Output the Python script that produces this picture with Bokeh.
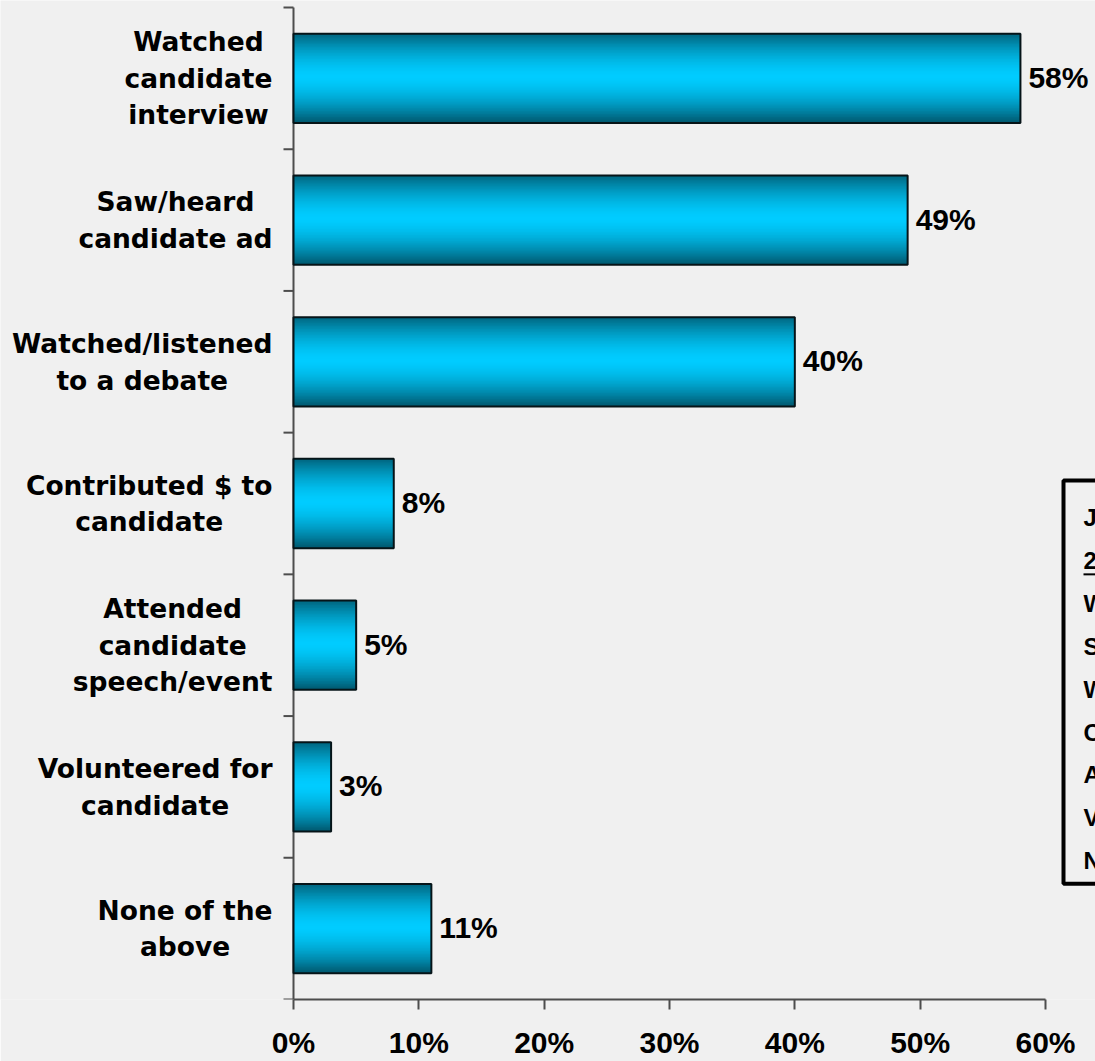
import numpy as np
from bokeh.plotting import figure
from bokeh.models import FixedTicker, Range1d
from bokeh.core.properties import value
from bokeh.embed import file_html
from bokeh.resources import INLINE

# ---- data ----
categories = [
    "Watched\ncandidate\ninterview",
    "Saw/heard\ncandidate ad",
    "Watched/listened\nto a debate",
    "Contributed $ to\ncandidate",
    "Attended\ncandidate\nspeech/event",
    "Volunteered for\ncandidate",
    "None of the\nabove",
]
values = [58, 49, 40, 8, 5, 3, 11]
value_labels = ["58%", "49%", "40%", "8%", "5%", "3%", "11%"]
x_ticks = [0, 10, 20, 30, 40, 50, 60]
x_tick_labels = ["0%", "10%", "20%", "30%", "40%", "50%", "60%"]
legend_lines = ["J", "2", "W", "S", "W", "C", "A", "V", "N"]

# ---- layout ----
W, H = 1095, 1061
ZERO_PX = 293          # pixel column of 0%
PXU = (1045 - 293) / 60.0  # pixels per percent
XMIN = -ZERO_PX / PXU
XMAX = (W - ZERO_PX) / PXU
n = len(categories)
TOP_PX, BOT_PX = 7, 1001   # category boundaries (pixel rows)
PYU = (BOT_PX - TOP_PX) / n
FRAME_B = BOT_PX
YMAX = n + TOP_PX / PYU
ypos = [n - 0.5 - i for i in range(n)]
BAR_H = 0.63
CAT_FS = 26.5

def px_to_y(py):
    return n - (py - TOP_PX) / PYU

def px_to_x(px):
    return (px - ZERO_PX) / PXU

# text width measurement for centring multi-line category blocks
_w = {' ': .348, '$': .696, '/': .365, 'a': .675, 'b': .716, 'c': .593, 'd': .716,
      'e': .678, 'f': .435, 'h': .712, 'i': .343, 'l': .343, 'n': .712, 'o': .687,
      'p': .716, 'r': .493, 's': .595, 't': .478, 'u': .712, 'v': .652, 'w': .924,
      'A': .774, 'C': .734, 'N': .837, 'S': .720, 'V': .774, 'W': 1.030}
try:
    from PIL import ImageFont
    _font = ImageFont.truetype("DejaVuSans-Bold.ttf", 200)
    def text_w(s):
        return _font.getlength(s) / 200 * CAT_FS
except Exception:
    def text_w(s):
        return sum(_w.get(ch, .7) for ch in s) * CAT_FS

p = figure(width=W, height=H, x_range=Range1d(XMIN, XMAX), y_range=Range1d(0, YMAX),
           output_backend="svg", toolbar_location=None, y_axis_location=None,
           min_border_left=0, min_border_right=0, min_border_top=0,
           min_border_bottom=H - FRAME_B,
           background_fill_color="#f0f0f0", border_fill_color="#f0f0f0",
           outline_line_color=None)
p.grid.visible = False

AX = "#4d4d4d"
# x axis
xa = p.xaxis[0]
xa.ticker = FixedTicker(ticks=x_ticks)
xa.major_label_overrides = {t: l for t, l in zip(x_ticks, x_tick_labels)}
xa.bounds = (0, 60)
xa.axis_line_color = AX
xa.axis_line_width = 2
xa.major_tick_line_color = AX
xa.major_tick_line_width = 2
xa.major_tick_out = 10
xa.major_tick_in = 0
xa.minor_tick_line_color = None
xa.major_label_standoff = 16
xa.major_label_text_font = "Liberation Sans"
xa.major_label_text_font_style = "bold"
xa.major_label_text_font_size = "30px"
xa.major_label_text_color = "black"

# category axis drawn by hand: line at 0%, boundary ticks, centred label blocks
TICK = 10 / PXU
p.segment(x0=[0], x1=[0], y0=[0], y1=[n], line_color=AX, line_width=2)
bounds = list(range(n + 1))
p.segment(x0=[-TICK] * len(bounds), x1=[0] * len(bounds), y0=bounds, y1=bounds,
          line_color=AX, line_width=2)

RIGHT_EDGE = 272
cat_x = [px_to_x(RIGHT_EDGE - max(text_w(s) for s in c.split("\n")) / 2)
         for c in categories]
p.text(x=cat_x, y=ypos, text=categories, text_align="center",
       text_baseline="middle", text_font=value("DejaVu Sans"),
       text_font_style="bold", text_font_size=f"{CAT_FS}px",
       text_line_height=1.18, text_color="black")

# ---- gradient bars (horizontal stripes) ----
dark = np.array([0, 86, 108])
bright = np.array([0, 204, 255])
NS = 60
L, R, B, T, C = [], [], [], [], []
for v, yc in zip(values, ypos):
    y0 = yc - BAR_H / 2
    dh = BAR_H / NS
    for k in range(NS):
        t = 1 - (k + 0.5) / NS  # 0 at top
        d = abs(t - 0.48) / 0.52
        f = max(0.0, 1 - d ** 1.6)
        col = dark + (bright - dark) * f
        L.append(0); R.append(v)
        B.append(y0 + k * dh); T.append(min(y0 + (k + 2) * dh, yc + BAR_H / 2))
        C.append("#%02x%02x%02x" % tuple(int(round(c)) for c in col))
p.quad(left=L, right=R, bottom=B, top=T, fill_color=C, line_color=None)
p.quad(left=[0] * n, right=values,
       bottom=[y - BAR_H / 2 for y in ypos], top=[y + BAR_H / 2 for y in ypos],
       fill_color=None, line_color="#061418", line_width=2)

# value labels
p.text(x=values, y=ypos, text=value_labels, x_offset=8, y_offset=-1,
       text_font=value("Liberation Sans"), text_font_style="bold",
       text_font_size="30px", text_baseline="middle", text_align="left",
       text_color="black")

# ---- partially visible legend box on the right ----
box_top, box_bot = px_to_y(481), px_to_y(885)
p.quad(left=[px_to_x(1063)], right=[XMAX + 2], bottom=[box_bot], top=[box_top],
       fill_color=None, line_color="black", line_width=4)
ly = [px_to_y(518 + 43 * i) for i in range(len(legend_lines))]
lx = [px_to_x(1083)] * len(legend_lines)
p.text(x=lx, y=ly, text=legend_lines, text_font=value("Liberation Sans"),
       text_font_style="bold", text_font_size="24px", text_baseline="middle",
       text_align="left", text_color="black")
p.segment(x0=[px_to_x(1083)], x1=[XMAX + 1], y0=[px_to_y(575)], y1=[px_to_y(575)],
          line_color="black", line_width=2)

open("out.html", "w").write(file_html(p, INLINE))
